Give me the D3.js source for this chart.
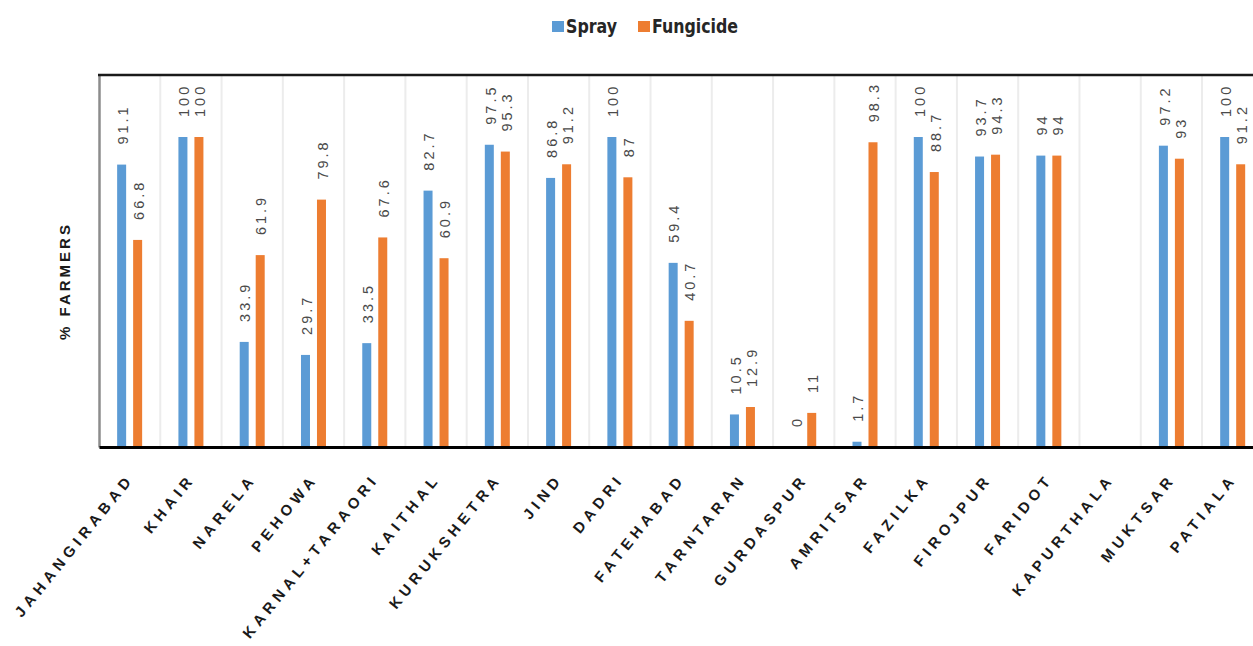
<!DOCTYPE html>
<html>
<head>
<meta charset="utf-8">
<script src="https://cdn.jsdelivr.net/npm/d3@7/dist/d3.min.js"></script>
<style>
  html, body { margin: 0; padding: 0; background: #ffffff; overflow: hidden; }
  svg { display: block; }
</style>
</head>
<body>
<svg id="chart" width="1253" height="646"></svg>
<script>
// District-wise share of farmers using spray and fungicide
const districts = ["JAHANGIRABAD", "KHAIR", "NARELA", "PEHOWA", "KARNAL+TARAORI", "KAITHAL",
  "KURUKSHETRA", "JIND", "DADRI", "FATEHABAD", "TARNTARAN", "GURDASPUR", "AMRITSAR",
  "FAZILKA", "FIROJPUR", "FARIDOT", "KAPURTHALA", "MUKTSAR", "PATIALA"];
const sprayValues = [91.1, 100, 33.9, 29.7, 33.5, 82.7, 97.5, 86.8, 100, 59.4, 10.5, 0, 1.7,
  100, 93.7, 94, null, 97.2, 100];
const fungicideValues = [66.8, 100, 61.9, 79.8, 67.6, 60.9, 95.3, 91.2, 87, 40.7, 12.9, 11, 98.3,
  88.7, 94.3, 94, null, 93, 91.2];
const seriesNames = ["Spray", "Fungicide"];
const seriesColors = ["#5b9bd5", "#ed7d31"];
const yDomain = [0, 120];
const yTitle = "% FARMERS";

const svg = d3.select("#chart");

const plot = { left: 99, top: 75, bottom: 447, band: 61.28 };
plot.right = plot.left + plot.band * districts.length;

const x = d3.scaleBand().domain(districts).range([plot.left, plot.right]).padding(0);
const bw = x.bandwidth();
const xInner = d3.scaleBand().domain(seriesNames)
  .range([bw / 2 - 12.5, bw / 2 + 12.5]).paddingInner(7 / 16).paddingOuter(0);
const y = d3.scaleLinear().domain(yDomain).range([plot.bottom, plot.top]);
const color = d3.scaleOrdinal().domain(seriesNames).range(seriesColors);

const rows = districts.map((d, i) => ({
  district: d,
  values: [
    { key: "Spray", value: sprayValues[i] },
    { key: "Fungicide", value: fungicideValues[i] }
  ].filter(v => v.value !== null)
}));

// Category separators
svg.append("g")
  .selectAll("line")
  .data(districts.slice(1))
  .join("line")
  .attr("x1", d => x(d)).attr("x2", d => x(d))
  .attr("y1", plot.top).attr("y2", plot.bottom)
  .attr("stroke", "#ececec")
  .attr("stroke-width", 2);

// Bars
const groups = svg.append("g")
  .selectAll("g")
  .data(rows)
  .join("g")
  .attr("transform", d => `translate(${x(d.district)},0)`);

groups.selectAll("rect")
  .data(d => d.values)
  .join("rect")
  .attr("x", d => xInner(d.key))
  .attr("width", xInner.bandwidth())
  .attr("y", d => y(d.value))
  .attr("height", d => y(0) - y(d.value))
  .attr("fill", d => color(d.key));

// Value labels, rotated above each bar
groups.selectAll("text")
  .data(d => d.values)
  .join("text")
  .attr("transform", d => `translate(${xInner(d.key) + xInner.bandwidth() / 2 + 1},${y(d.value) - 20}) rotate(-90)`)
  .attr("dy", "0.36em")
  .attr("text-anchor", "start")
  .attr("font-family", "'Liberation Sans', Arial, sans-serif")
  .attr("font-size", 14.5)
  .attr("letter-spacing", 3)
  .attr("fill", "#4a4a4a")
  .text(d => d.value);

// Frame: left edge and top edge
svg.append("g")
  .attr("transform", `translate(${plot.left},0)`)
  .call(d3.axisLeft(y).ticks(0).tickSizeOuter(0))
  .call(g => g.select(".domain").attr("stroke", "#8c8c8c").attr("stroke-width", 2.5));

svg.append("line")
  .attr("x1", plot.left - 1).attr("x2", plot.right)
  .attr("y1", plot.top).attr("y2", plot.top)
  .attr("stroke", "#1a1a1a")
  .attr("stroke-width", 2.5);

// Category axis
const xAxis = svg.append("g")
  .attr("transform", `translate(0,${plot.bottom})`)
  .call(d3.axisBottom(x).tickSize(0).tickSizeOuter(0));
xAxis.select(".domain").attr("stroke", "#000").attr("stroke-width", 3);
xAxis.selectAll(".tick text")
  .attr("x", 0).attr("y", 0).attr("dy", 0)
  .attr("transform", "translate(5,32) rotate(-51)")
  .attr("text-anchor", "end")
  .attr("font-family", "'Liberation Sans', Arial, sans-serif")
  .attr("font-weight", "bold")
  .attr("font-size", 15)
  .attr("letter-spacing", 4.8)
  .attr("fill", "#1a1a1a");

// Axis title
svg.append("text")
  .attr("transform", `translate(70,${(plot.top + plot.bottom) / 2 + 20}) rotate(-90)`)
  .attr("text-anchor", "middle")
  .attr("font-family", "'Liberation Sans', Arial, sans-serif")
  .attr("font-weight", "bold")
  .attr("font-size", 15)
  .attr("letter-spacing", 3)
  .attr("fill", "#1a1a1a")
  .text(yTitle);

// Legend
const legend = svg.append("g").attr("transform", "translate(552,0)");
const legendItems = legend.selectAll("g")
  .data(seriesNames)
  .join("g")
  .attr("transform", (d, i) => `translate(${i * 86},0)`);
legendItems.append("rect")
  .attr("x", 0).attr("y", 21)
  .attr("width", 12).attr("height", 11)
  .attr("fill", d => color(d));
legendItems.append("text")
  .attr("transform", "translate(14,33) scale(0.88,1)")
  .attr("font-family", "'Liberation Sans Narrow', 'Arial Narrow', 'DejaVu Sans Condensed', sans-serif")
  .attr("font-weight", "bold")
  .attr("font-size", 20)
  .attr("fill", "#262626")
  .text(d => d);
</script>
</body>
</html>
